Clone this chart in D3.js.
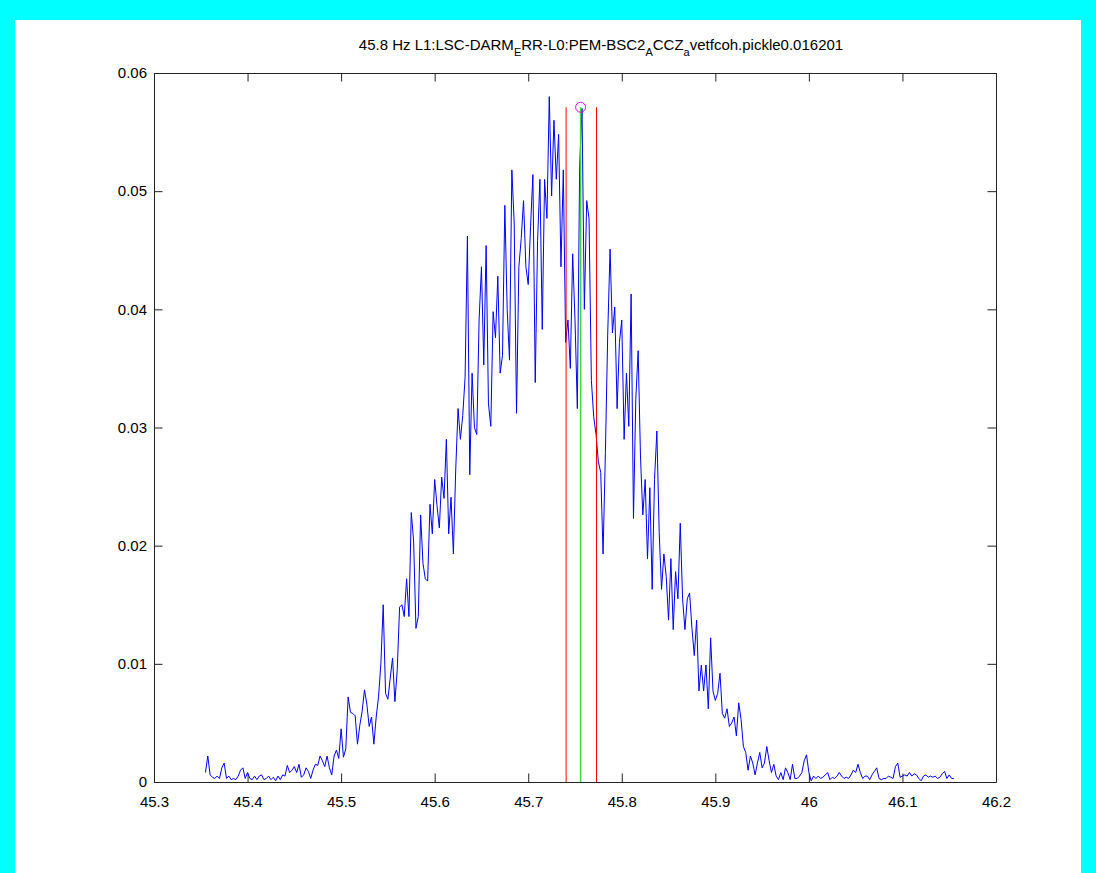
<!DOCTYPE html>
<html>
<head>
<meta charset="utf-8">
<script src="https://cdn.jsdelivr.net/npm/d3@7"></script>
<style>
body { margin: 0; background: #00ffff; }
svg { display: block; font-family: "Liberation Sans", Arial, sans-serif; }
</style>
</head>
<body>
<svg id="fig" width="1096" height="873"></svg>
<script>
// frequency grid (Hz): first bin and bin step
var freqStart = 45.355,
    freqStep = 0.0025;

// coherence, in units of 1e-4
var cohE4 = [
    8, 22, 6, 4, 3, 5, 3, 12, 16, 3, 5, 2, 3, 2, 5, 10, 12, 3, 8, 3,
    2, 5, 2, 5, 6, 2, 3, 5, 2, 4, 1, 5, 2, 6, 5, 14, 8, 10, 13, 8,
    15, 4, 6, 12, 9, 3, 10, 15, 14, 22, 18, 13, 22, 12, 6, 22, 27, 20, 45, 21,
    28, 72, 59, 58, 56, 32, 48, 60, 78, 66, 47, 55, 32, 55, 72, 100, 150, 75, 70, 88,
    105, 68, 95, 148, 150, 140, 172, 140, 228, 204, 130, 140, 226, 185, 172, 170, 235, 210, 256, 234,
    215, 258, 240, 290, 210, 241, 193, 264, 316, 290, 310, 342, 462, 260, 346, 300, 294, 391, 436, 353,
    454, 320, 301, 398, 376, 428, 346, 361, 488, 400, 357, 518, 473, 312, 436, 460, 492, 436, 421, 470,
    514, 338, 458, 510, 383, 510, 477, 580, 496, 560, 510, 548, 436, 518, 372, 391, 350, 447, 391, 316,
    522, 570, 400, 492, 477, 340, 309, 294, 271, 262, 193, 279, 380, 451, 380, 402, 316, 372, 391, 290,
    346, 301, 413, 223, 324, 365, 275, 226, 256, 189, 249, 163, 256, 297, 211, 163, 193, 174, 137, 189,
    129, 178, 155, 219, 155, 129, 155, 160, 130, 107, 137, 77, 99, 77, 99, 62, 122, 77, 69, 75,
    92, 58, 54, 62, 47, 50, 55, 39, 67, 53, 30, 25, 10, 22, 16, 6, 16, 25, 12, 16,
    30, 18, 8, 15, 5, 2, 8, 2, 12, 8, 2, 15, 3, 3, 5, 8, 18, 23, 8, 1,
    5, 3, 5, 3, 4, 6, 8, 2, 4, 3, 5, 8, 5, 3, 4, 3, 6, 10, 8, 15,
    8, 3, 5, 5, 2, 6, 9, 12, 3, 2, 3, 3, 5, 4, 3, 13, 16, 4, 5, 6,
    5, 8, 5, 7, 6, 3, 1, 5, 6, 4, 5, 4, 5, 3, 4, 7, 9, 3, 6, 3, 3
];

// band edges (red), centre line (green) and marked peak (circle)
var bandEdges = [45.7405, 45.773];
var centreFreq = 45.756;
var peakCoh = 0.0571;

var xTicks = [45.3, 45.4, 45.5, 45.6, 45.7, 45.8, 45.9, 46, 46.1, 46.2];
var yTicks = [0, 0.01, 0.02, 0.03, 0.04, 0.05, 0.06];

var points = cohE4.map(function(v, i) {
    return { f: freqStart + i * freqStep, c: v / 10000 };
});

var margin = { top: 73, left: 154 },
    width = 842,
    height = 709;

var svg = d3.select('#fig');

svg.append('rect')
    .attr('x', 15).attr('y', 20)
    .attr('width', 1066).attr('height', 853)
    .attr('fill', '#ffffff');

var xScale = d3.scaleLinear()
    .domain([45.3, 46.2])
    .range([0, width]);

var yScale = d3.scaleLinear()
    .domain([0, 0.06])
    .range([height, 0]);

var chart = svg.append('g')
    .attr('transform', 'translate(' + margin.left + ',' + margin.top + ')');

var fmt = function(d) { return String(d); };

var axes = [
    chart.append('g').attr('transform', 'translate(0,' + height + ')')
        .call(d3.axisBottom(xScale).tickValues(xTicks).tickFormat(fmt)
            .tickSizeInner(-8.5).tickSizeOuter(0).tickPadding(14)),
    chart.append('g')
        .call(d3.axisTop(xScale).tickValues(xTicks).tickFormat('')
            .tickSizeInner(-8.5).tickSizeOuter(0)),
    chart.append('g')
        .call(d3.axisLeft(yScale).tickValues(yTicks).tickFormat(fmt)
            .tickSizeInner(-8.5).tickSizeOuter(0).tickPadding(7)),
    chart.append('g').attr('transform', 'translate(' + width + ',0)')
        .call(d3.axisRight(yScale).tickValues(yTicks).tickFormat('')
            .tickSizeInner(-8.5).tickSizeOuter(0))
];

axes.forEach(function(a) {
    a.selectAll('path, line').attr('stroke', '#222');
    a.selectAll('text')
        .attr('fill', '#000')
        .style('font-size', '15px')
        .style('font-family', '"Liberation Sans", Arial, sans-serif');
});

var line = d3.line()
    .x(function(d) { return xScale(d.f); })
    .y(function(d) { return yScale(d.c); });

chart.append('path')
    .datum(points)
    .attr('d', line)
    .attr('fill', 'none')
    .attr('stroke', '#0000ff')
    .attr('stroke-width', 1);

chart.selectAll('.edge')
    .data(bandEdges)
    .enter().append('line')
        .attr('class', 'edge')
        .attr('x1', function(d) { return xScale(d); })
        .attr('x2', function(d) { return xScale(d); })
        .attr('y1', yScale(0))
        .attr('y2', yScale(peakCoh))
        .attr('stroke', '#ff0000')
        .attr('stroke-width', 1);

chart.append('line')
    .attr('x1', xScale(centreFreq)).attr('x2', xScale(centreFreq))
    .attr('y1', yScale(0)).attr('y2', yScale(peakCoh))
    .attr('stroke', '#33dd33')
    .attr('stroke-width', 1.5);

chart.append('circle')
    .attr('cx', xScale(centreFreq))
    .attr('cy', yScale(peakCoh))
    .attr('r', 5)
    .attr('fill', 'none')
    .attr('stroke', '#ee00ee')
    .attr('stroke-width', 1);

// title with the subscripts
var title = svg.append('text')
    .attr('x', 601)
    .attr('y', 50)
    .attr('text-anchor', 'middle')
    .style('font-size', '15px')
    .attr('fill', '#000');

var parts = [
    ['45.8 Hz L1:LSC-DARM', 0], ['E', 1], ['RR-L0:PEM-BSC2', 0], ['A', 1],
    ['CCZ', 0], ['a', 1], ['vetfcoh.pickle0.016201', 0]
];
var shift = 0;
parts.forEach(function(p) {
    var dy = p[1] ? 6 - shift : -shift;
    shift = p[1] ? 6 : 0;
    title.append('tspan')
        .attr('dy', dy)
        .style('font-size', p[1] ? '11px' : '15px')
        .text(p[0]);
});
</script>
</body>
</html>
